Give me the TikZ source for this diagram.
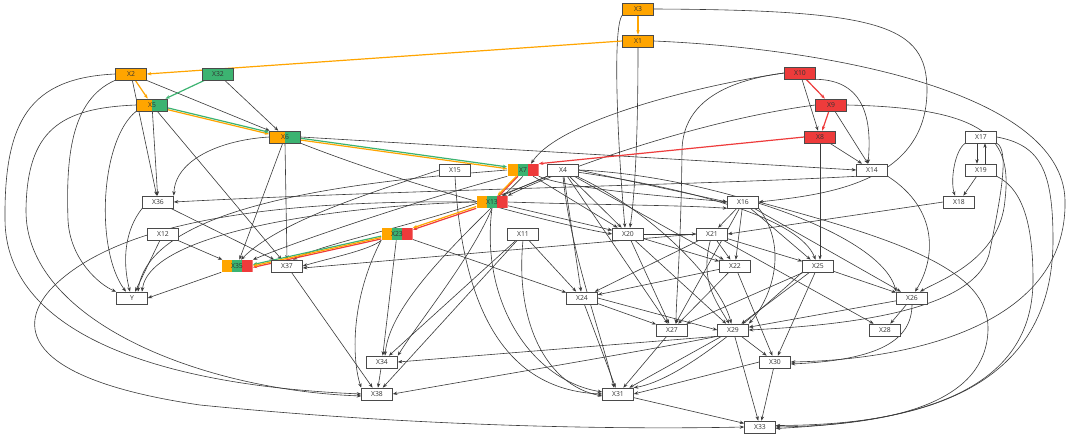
\documentclass[tikz,border=0pt]{standalone}
\usepackage{fontspec}
\setmainfont{Open Sans}
\usetikzlibrary{arrows.meta,calc}
\definecolor{cOr}{HTML}{FFA500}
\definecolor{cGr}{HTML}{3CB371}
\definecolor{cRd}{HTML}{EE3B3B}
\definecolor{edgec}{HTML}{3A3A3A}
\definecolor{bordc}{HTML}{4A4A4A}
\pgfdeclarelayer{bg}
\pgfsetlayers{bg,main}
\tikzset{
 nd/.style={draw=bordc, line width=0.6pt, rectangle, minimum width=31pt, minimum height=12pt, inner sep=0pt, font=\fontsize{6.8}{7}\selectfont, text=black!80, fill=white},
 fo/.style={nd, fill=cOr},
 fg/.style={nd, fill=cGr},
 fr/.style={nd, fill=cRd},
 two/.style={nd, path picture={
   \fill[cOr] (path picture bounding box.south west) rectangle (path picture bounding box.north);
   \fill[cGr] (path picture bounding box.south) rectangle (path picture bounding box.north east);}},
 three/.style={nd, draw=none, path picture={
   \fill[cOr] (path picture bounding box.south west) rectangle ([xshift=-5.17pt]path picture bounding box.north);
   \fill[cGr] ([xshift=-5.17pt]path picture bounding box.south) rectangle ([xshift=5.17pt]path picture bounding box.north);
   \fill[cRd] ([xshift=5.17pt]path picture bounding box.south) rectangle (path picture bounding box.north east);}},
 e/.style={draw=edgec, line width=0.6pt, -{Stealth[length=4.5pt,width=3.4pt]}},
 oe/.style={e, draw=cOr, line width=1.2pt},
 ge/.style={e, draw=cGr, line width=1.2pt},
 re/.style={e, draw=cRd, line width=1.2pt},
}
\begin{document}
\begin{tikzpicture}[x=1pt,y=-1pt]
\useasboundingbox (0,0) rectangle (1080,437);
% nodes
\node[fo] (X3) at (638,9) {X3};
\node[fo] (X1) at (638,41) {X1};
\node[fo] (X2) at (131,74) {X2};
\node[fg] (X32) at (218,74) {X32};
\node[fr] (X10) at (800,73) {X10};
\node[two] (X5) at (152,105) {X5};
\node[fr] (X9) at (831,105) {X9};
\node[two] (X6) at (285,137) {X6};
\node[fr] (X8) at (820,137) {X8};
\node[nd] (X17) at (981,137) {X17};
\node[nd] (X15) at (455,170) {X15};
\node[three] (X7) at (523,170) {X7};
\node[nd] (X4) at (563,170) {X4};
\node[nd] (X14) at (872,170) {X14};
\node[nd] (X19) at (981,170) {X19};
\node[nd] (X36) at (158,202) {X36};
\node[three] (X13) at (492,202) {X13};
\node[nd] (X16) at (743,202) {X16};
\node[nd] (X18) at (959,202) {X18};
\node[nd] (X12) at (163,234) {X12};
\node[three] (X23) at (397,234) {X23};
\node[nd] (X11) at (523,234) {X11};
\node[nd] (X20) at (628,234) {X20};
\node[nd] (X21) at (712,234) {X21};
\node[three] (X35) at (237,266) {X35};
\node[nd] (X37) at (287,266) {X37};
\node[nd] (X22) at (735,266) {X22};
\node[nd] (X25) at (818,266) {X25};
\node[nd] (Y) at (132,298) {Y};
\node[nd] (X24) at (582,298) {X24};
\node[nd] (X26) at (912,298) {X26};
\node[nd] (X27) at (672,330) {X27};
\node[nd] (X29) at (733,330) {X29};
\node[nd] (X28) at (885,330) {X28};
\node[nd] (X34) at (382,362) {X34};
\node[nd] (X30) at (775,362) {X30};
\node[nd] (X38) at (377,394) {X38};
\node[nd] (X31) at (618,394) {X31};
\node[nd] (X33) at (760,427) {X33};
\begin{pgfonlayer}{bg}
\fill[white] (0,0) rectangle (1080,437);
% X3, X1
\draw[e] (X3.south west) .. controls (612,28) and (618,150) .. ([xshift=-3pt]X20.north);
\draw[e] (X1) .. controls (638,150) and (634,200) .. ([xshift=2pt]X20.north);
\draw[e] (X3.east) .. controls (880,10) and (927,25) .. (927,90) .. controls (927,185) and (820,195) .. (X16.east);
\draw[e] (X1.east) .. controls (820,48) and (1062,90) .. (1065,200) .. controls (1068,330) and (900,360) .. (X30.east);
% X2
\draw[e] (X2) -- (X6);
\draw[e] (X2) -- (X36);
\draw[e] (X2.south west) .. controls (70,100) and (66,160) .. (68,220) .. controls (70,260) and (100,285) .. (Y.north west);
\draw[e] (X2.west) .. controls (30,78) and (4,120) .. (5,220) .. controls (6,330) and (150,385) .. (X38.west);
% X5
\draw[e] (X5) -- (X36);
\draw[e] (X5) -- (X37);
\draw[e] (X5.south west) .. controls (100,140) and (95,250) .. ([xshift=-6pt]Y.north);
\draw[e] (X5.west) .. controls (60,108) and (27,130) .. (26,210) .. controls (25,320) and (200,390) .. ([yshift=-2pt]X38.west);
% X32
\draw[e] (X32) -- (X6);
% X6
\draw[e] (X6.west) .. controls (220,140) and (175,160) .. (X36.north east);
\draw[e] (X6) -- (X35);
\draw[e] (X6.south) -- (X37.north);
\draw[e] (X6.east) -- (X14.west);
\draw[e] (X6.south east) .. controls (420,190) and (560,225) .. (X20.west);
% X12
\draw[e] (X12) -- (X35);
\draw[e] (X12) -- (Y);
% X36
\draw[e] (X36) -- (X37);
\draw[e] (X36.south west) .. controls (125,230) and (122,260) .. ([xshift=-2pt]Y.north);
% X35, X37
\draw[e] (X35.south west) -- (Y.east);
\draw[e] (X37) -- (X38);
% X15
\draw[e] (X15.west) .. controls (380,190) and (280,220) .. ([xshift=4pt]X35.north);
\draw[e] (X15.south) .. controls (462,300) and (500,390) .. (X31.west);
% X7
\draw[e] (X7.south west) .. controls (420,200) and (300,240) .. (X35.north east);
\draw[e] (X7.west) .. controls (380,180) and (150,200) .. ([xshift=6pt]Y.north);
\draw[e] (X7.south) .. controls (470,230) and (390,300) .. ([xshift=3pt]X34.north);
\draw[e] (X7) -- (X20);
\draw[e] (X7.south east) .. controls (570,190) and (690,198) .. (X16.west);
% X4
\draw[e] (X4.south west) -- ([xshift=10pt]X13.north);
\draw[e] (X4.east) -- (X16.west);
\draw[e] (X4) -- (X20);
\draw[e] (X4) -- (X22);
\draw[e] (X4) -- (X24);
\draw[e] (X4) .. controls (700,190) and (800,220) .. (X25);
\draw[e] (X4.east) .. controls (700,175) and (880,230) .. (X26.north west);
\draw[e] (X4) -- (X27);
\draw[e] (X4.south) .. controls (570,250) and (600,330) .. ([xshift=-4pt]X31.north);
\draw[e] (X4.south west) .. controls (450,220) and (330,240) .. ([xshift=6pt]X37.north);
\draw[e] (X4) .. controls (650,210) and (720,280) .. (X29);
% X13
\draw[e] (X13) -- (X20);
\draw[e] (X13.east) .. controls (600,205) and (680,205) .. (X16.south west);
\draw[e] (X13.south) .. controls (470,260) and (420,320) .. (X34.north east);
\draw[e] (X13.south) .. controls (480,300) and (530,380) .. ([yshift=2pt]X31.west);
\draw[e] (X13.west) .. controls (350,205) and (150,230) .. ([xshift=10pt]Y.north);
\draw[e] (X13.west) .. controls (300,200) and (120,215) .. (50,290) .. controls (15,330) and (30,380) .. (200,405) .. controls (400,425) and (600,430) .. (X33.west);
% X23
\draw[e] (X23) -- (X34);
\draw[e] (X23.south west) .. controls (350,300) and (352,360) .. (X38.north west);
\draw[e] (X23) -- (X24);
\draw[e] (X23.south west) .. controls (370,250) and (330,258) .. (X37.east);
% X11
\draw[e] (X11) -- (X24);
\draw[e] (X11.south) .. controls (515,320) and (545,385) .. ([yshift=-2pt]X31.west);
\draw[e] (X11) -- (X34);
\draw[e] (X11) -- (X38);
% X20
\draw[e] (X20) -- (X21);
\draw[e] (X20) -- (X22);
\draw[e] (X20) -- (X27);
\draw[e] (X20) -- (X29);
% X21
\draw[e] (X21) -- (X22);
\draw[e] (X21) -- (X25);
\draw[e] (X21) -- (X24);
\draw[e] (X21.west) -- ([yshift=-2pt]X37.east);
\draw[e] (X21) -- (X28);
\draw[e] (X21) .. controls (700,280) and (715,300) .. (X29);
% X16
\draw[e] (X16) -- (X21);
\draw[e] (X16) -- (X22);
\draw[e] (X16) -- (X25);
\draw[e] (X16) -- (X27);
\draw[e] (X16.south east) .. controls (790,250) and (770,300) .. (X29.north east);
\draw[e] (X16.east) .. controls (900,240) and (990,270) .. (988,330) .. controls (986,400) and (900,425) .. (X33.east);
\draw[e] (X16) -- (X26);
% X14
\draw[e] (X14.south east) .. controls (940,210) and (935,260) .. ([xshift=3pt]X26.north);
\draw[e] (X14.south west) .. controls (700,185) and (400,190) .. (X36.east);
% X8
\draw[e] (X8) -- (X14);
\draw[e] (X8.south) -- ([xshift=2pt]X25.north);
% X10
\draw[e] (X10) -- (X8);
\draw[e] (X10.south east) .. controls (865,80) and (872,120) .. ([xshift=-4pt]X14.north);
\draw[e] (X10.west) .. controls (700,85) and (560,120) .. ([xshift=8pt]X7.north);
\draw[e] (X10.west) .. controls (730,80) and (683,100) .. (682,150) .. controls (681,250) and (676,300) .. ([xshift=4pt]X27.north);
% X9
\draw[e] (X9) -- (X14);
\draw[e] (X9.east) .. controls (990,108) and (1012,140) .. (1005,200) .. controls (1000,260) and (940,280) .. ([xshift=8pt]X26.north);
\draw[e] (X9.west) .. controls (700,120) and (560,170) .. (X13.north east);
% X17, X19, X18
\draw[e] ([xshift=-4pt]X17.south) -- ([xshift=-4pt]X19.north);
\draw[e] ([xshift=4pt]X19.north) -- ([xshift=4pt]X17.south);
\draw[e] (X17.south west) .. controls (955,150) and (950,180) .. ([xshift=-4pt]X18.north);
\draw[e] (X19) -- (X18);
\draw[e] (X17.east) .. controls (1040,145) and (1053,170) .. (1053,240) .. controls (1053,400) and (900,425) .. ([yshift=1.5pt]X33.east);
\draw[e] (X19.south east) .. controls (1025,190) and (1033,230) .. (1033,280) .. controls (1033,400) and (900,422) .. ([yshift=-1.5pt]X33.east);
\draw[e] (X17.south east) .. controls (1010,150) and (1000,200) .. (990,250) .. controls (980,310) and (850,325) .. (X29.east);
\draw[e] (X18.west) -- (X21.east);
% X22
\draw[e] (X22) -- (X24);
\draw[e] (X22) -- (X30);
\draw[e] (X22) -- (X27);
% X25
\draw[e] (X25) -- (X26);
\draw[e] (X25) -- (X27);
\draw[e] (X25) -- (X29);
\draw[e] (X25) -- (X30);
\draw[e] (X25.south west) .. controls (750,320) and (680,380) .. (X31.north east);
% X24
\draw[e] (X24) -- (X27);
\draw[e] (X24) -- (X31);
\draw[e] (X24.east) -- (X29.west);
% X26
\draw[e] (X26) -- (X29);
\draw[e] (X26) -- (X28);
\draw[e] (X26.south) .. controls (912,340) and (880,360) .. ([yshift=-2pt]X30.east);
% X27, X29, X30, X34, X31
\draw[e] (X27) -- (X31);
\draw[e] (X29) -- (X30);
\draw[e] (X29) -- (X33);
\draw[e] (X29) -- (X31);
\draw[e] (X29.south west) -- (X34.east);
\draw[e] (X29.south west) .. controls (650,350) and (500,375) .. (X38.east);
\draw[e] (X30) -- (X33);
\draw[e] (X30.west) -- (X31.east);
\draw[e] (X34) -- (X38);
\draw[e] (X31) -- (X33);
% coloured paths
\draw[oe] (X3) -- (X1);
\draw[oe] (X1.west) -- (X2.east);
\draw[oe] (X2) -- (X5);
\draw[ge] (X32) -- (X5);
\draw[oe,transform canvas={yshift=-0.9pt}] (X5) -- (X6);
\draw[ge,transform canvas={yshift=0.9pt}] (X5) -- (X6);
\draw[oe,transform canvas={yshift=-0.9pt}] (X6) -- (X7);
\draw[ge,transform canvas={yshift=0.9pt}] (X6) -- (X7);
\draw[re] (X10) -- (X9);
\draw[re] (X9) -- (X8);
\draw[re] (X8.west) -- (X7.north east);
\draw[re,transform canvas={xshift=1pt}] (X7) -- (X13);
\draw[oe,transform canvas={xshift=-0.6pt}] (X7) -- (X13);
\draw[re,transform canvas={yshift=-1pt}] (X13) -- (X23);
\draw[oe,transform canvas={yshift=0.8pt}] (X13) -- (X23);
\draw[re,transform canvas={yshift=-1.4pt}] (X23) -- (X35.east);
\draw[ge,transform canvas={yshift=1.4pt}] (X23) -- (X35.east);
\draw[oe] (X23) -- (X35.east);
\end{pgfonlayer}
\end{tikzpicture}
\end{document}
